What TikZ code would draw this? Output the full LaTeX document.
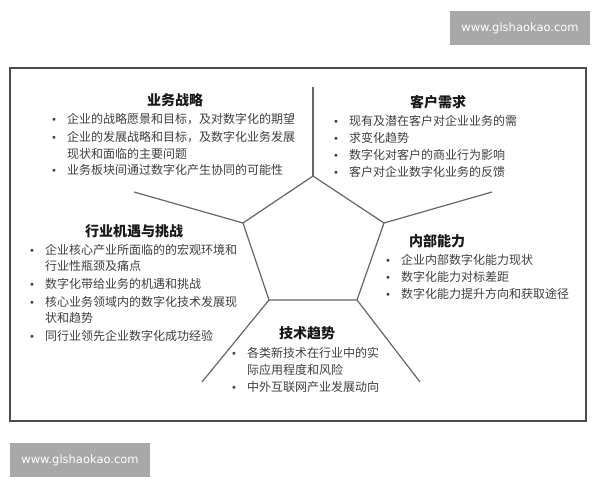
\documentclass[tikz,border=0pt]{standalone}
\usepackage{fontspec}
\setmainfont{Noto Sans CJK SC}
\newfontfamily\wmfont{DejaVu Sans}
\usepackage{tikz}

\newcommand\bul{\makebox[16pt][l]{\wmfont\fontsize{10}{10}\selectfont\textbullet}}

\tikzset{
	spoke/.style={draw=black!60, line width=1.2pt},
	title/.style={font=\fontsize{14}{14}\selectfont\bfseries, text=black!90, inner sep=0},
	item/.style={font=\fontsize{12}{12}\selectfont, text=black!75, anchor=west, inner sep=0},
	wmark/.style={fill=black!34, text=white, font=\wmfont\fontsize{11.5}{11.5}\selectfont, minimum width=140pt, minimum height=34pt, inner sep=0}
}

\begin{document}
\begin{tikzpicture}[x=1pt,y=-1pt]
\fill[white] (0,0) rectangle (600,480);
\useasboundingbox (0,0) rectangle (600,480);

\draw[black!70, line width=1.5pt] (10,68) rectangle (586,421);

% pentagon and spokes
\coordinate (pt) at (313,176);
\coordinate (pr) at (384,223);
\coordinate (pbr) at (357,300);
\coordinate (pbl) at (269,300);
\coordinate (pl) at (243,223);
\coordinate (et) at (313,87);
\coordinate (er) at (492,192);
\coordinate (ebr) at (420,382);
\coordinate (ebl) at (202,382);
\coordinate (el) at (134,192);

\draw[spoke] (pt)--(pr)--(pbr)--(pbl)--(pl)--cycle;
\draw[spoke] (pt)--(et);
\draw[spoke] (pr)--(er);
\draw[spoke] (pbr)--(ebr);
\draw[spoke] (pbl)--(ebl);
\draw[spoke] (pl)--(el);

% business strategy
\node[title] (strat) at (175,100) {业务战略};
\node[item] (strat-a) at (67-16,119) {\bul 企业的战略愿景和目标，及对数字化的期望};
\node[item] (strat-b) at (67-16,137) {\bul 企业的发展战略和目标，及数字化业务发展};
\node[item] (strat-b2) at (67,154) {现状和面临的主要问题};
\node[item] (strat-c) at (67-16,170) {\bul 业务板块间通过数字化产生协同的可能性};

% customer needs
\node[title] (cust) at (438,102) {客户需求};
\node[item] (cust-a) at (349-16,121) {\bul 现有及潜在客户对企业业务的需};
\node[item] (cust-b) at (349-16,138) {\bul 求变化趋势};
\node[item] (cust-c) at (349-16,155) {\bul 数字化对客户的商业行为影响};
\node[item] (cust-d) at (349-16,172) {\bul 客户对企业数字化业务的反馈};

% industry
\node[title] (ind) at (134,231) {行业机遇与挑战};
\node[item] (ind-a) at (45-16,250) {\bul 企业核心产业所面临的的宏观环境和};
\node[item] (ind-a2) at (45,266) {行业性瓶颈及痛点};
\node[item] (ind-b) at (45-16,284) {\bul 数字化带给业务的机遇和挑战};
\node[item] (ind-c) at (45-16,302) {\bul 核心业务领域内的数字化技术发展现};
\node[item] (ind-c2) at (45,318) {状和趋势};
\node[item] (ind-d) at (45-16,336) {\bul 同行业领先企业数字化成功经验};

% internal capability
\node[title] (cap) at (437,241) {内部能力};
\node[item] (cap-a) at (401-16,260) {\bul 企业内部数字化能力现状};
\node[item] (cap-b) at (401-16,277) {\bul 数字化能力对标差距};
\node[item] (cap-c) at (401-16,294) {\bul 数字化能力提升方向和获取途径};

% technology trends
\node[title] (tech) at (307,333) {技术趋势};
\node[item] (tech-a) at (247-16,353) {\bul 各类新技术在行业中的实};
\node[item] (tech-a2) at (247,370) {际应用程度和风险};
\node[item] (tech-b) at (247-16,387) {\bul 中外互联网产业发展动向};

% watermarks
\node[wmark] (wm1) at (520,28) {www.glshaokao.com};
\node[wmark] (wm2) at (80,460) {www.glshaokao.com};

\end{tikzpicture}
\end{document}
